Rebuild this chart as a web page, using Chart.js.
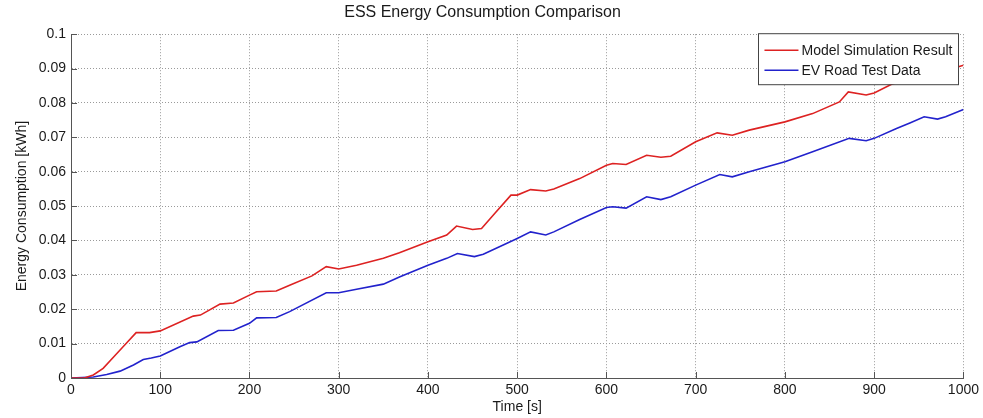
<!doctype html>
<html lang="en">
  <head>
    <meta charset="utf-8">
    <title>ESS Energy Consumption Comparison</title>
    <style>
      * { margin: 0; padding: 0; }
      body { background: #ffffff; }
      .chartBox { width: 983px; height: 418px; }
    </style>
  </head>
  <body>
    <div class="chartBox">
      <canvas id="myChart"></canvas>
    </div>
    <script src="https://cdn.jsdelivr.net/npm/chart.js"></script>
    <script>
    // values
    const simTime = [0, 15, 25, 36, 48, 62, 73, 88, 100, 137, 145, 167, 182, 200, 208, 230, 245, 270, 286, 300,
      320, 350, 368, 400, 421, 432, 450, 460, 475, 493, 500, 515, 532, 541, 570, 600, 607, 622, 645, 661,
      672, 700, 724, 741, 760, 800, 831, 861, 871, 891, 900, 920, 950, 975, 1000];
    const simEnergy = [0, 0, 0.0009, 0.0028, 0.0062, 0.0101, 0.0132, 0.0132, 0.0137, 0.018, 0.0183, 0.0215, 0.0218, 0.0241, 0.0251, 0.0253, 0.027, 0.0297, 0.0324, 0.0317,
      0.0328, 0.0348, 0.0364, 0.0396, 0.0416, 0.0442, 0.0432, 0.0435, 0.0479, 0.0532, 0.0532, 0.0548, 0.0544, 0.055, 0.058, 0.0619, 0.0624, 0.0621, 0.0648, 0.0642,
      0.0645, 0.0687, 0.0713, 0.0706, 0.0721, 0.0745, 0.0769, 0.0803, 0.0832, 0.0823, 0.0829, 0.0855, 0.0875, 0.089, 0.091];

    const roadTime = [0, 25, 40, 55, 70, 81, 90, 100, 122, 133, 141, 165, 182, 200, 208, 230, 245, 286, 300, 320,
      350, 368, 400, 421, 433, 452, 462, 500, 515, 532, 541, 570, 600, 607, 622, 645, 661, 672, 700, 727,
      741, 760, 800, 831, 872, 891, 900, 925, 940, 956, 971, 980, 1000];
    const roadEnergy = [0, 0.0003, 0.001, 0.002, 0.0038, 0.0054, 0.0058, 0.0064, 0.0091, 0.0103, 0.0105, 0.0138, 0.0139, 0.0159, 0.0175, 0.0176, 0.0193, 0.0248, 0.0248, 0.0258,
      0.0273, 0.0294, 0.0328, 0.0348, 0.0362, 0.0353, 0.036, 0.0406, 0.0425, 0.0416, 0.0425, 0.0461, 0.0496, 0.0498, 0.0494, 0.0527, 0.0519, 0.0527, 0.0561, 0.0592,
      0.0585, 0.06, 0.0629, 0.0658, 0.0697, 0.069, 0.0697, 0.0726, 0.0742, 0.076, 0.0753, 0.076, 0.0781];

    const seriesLabels = ['Model Simulation Result', 'EV Road Test Data'];

    const FONT = 'Liberation Sans, Arial, sans-serif';
    const INK = '#1a1a1a';
    const AXIS = '#555555';

    function toPoints(xs, ys) {
      return xs.map((x, i) => ({ x: x, y: ys[i] }));
    }

    // matlab style inward tick marks
    const inwardTicks = {
      id: 'inwardTicks',
      afterDatasetsDraw(chart) {
        const { ctx, chartArea: a, scales } = chart;
        ctx.save();
        ctx.strokeStyle = AXIS;
        ctx.lineWidth = 1;
        ctx.beginPath();
        scales.x.ticks.forEach((t, i) => {
          const px = Math.round(scales.x.getPixelForTick(i)) + 0.5;
          ctx.moveTo(px, a.bottom);
          ctx.lineTo(px, a.bottom - 6);
        });
        scales.y.ticks.forEach((t, i) => {
          const py = Math.round(scales.y.getPixelForTick(i)) + 0.5;
          ctx.moveTo(a.left, py);
          ctx.lineTo(a.left + 6, py);
        });
        ctx.stroke();
        ctx.restore();
      }
    };

    // legend box inside the plot, top right
    const boxLegend = {
      id: 'boxLegend',
      afterDraw(chart) {
        const { ctx, chartArea: a } = chart;
        ctx.save();
        ctx.font = '14px ' + FONT;
        const textW = Math.max(...seriesLabels.map(s => ctx.measureText(s).width));
        const w = 6 + 34 + 3 + textW + 6;
        const h = 51;
        const x0 = a.right - 5 - w;
        const y0 = a.top - 1;
        ctx.fillStyle = '#ffffff';
        ctx.fillRect(x0, y0, w, h);
        ctx.strokeStyle = '#444444';
        ctx.lineWidth = 1;
        ctx.strokeRect(Math.round(x0) + 0.5, y0 + 0.5, Math.round(w), h);
        chart.data.datasets.forEach((ds, i) => {
          const cy = y0 + 17 + i * 20;
          ctx.strokeStyle = ds.borderColor;
          ctx.lineWidth = 1.5;
          ctx.beginPath();
          ctx.moveTo(x0 + 6, cy);
          ctx.lineTo(x0 + 40, cy);
          ctx.stroke();
          ctx.fillStyle = INK;
          ctx.textBaseline = 'middle';
          ctx.fillText(ds.label, x0 + 43, cy + 1);
        });
        ctx.restore();
      }
    };

    const data = {
      datasets: [
        {
          label: seriesLabels[0],
          data: toPoints(simTime, simEnergy),
          borderColor: '#dd2222',
          borderWidth: 1.6,
          pointRadius: 0,
          tension: 0
        },
        {
          label: seriesLabels[1],
          data: toPoints(roadTime, roadEnergy),
          borderColor: '#2222cc',
          borderWidth: 1.6,
          pointRadius: 0,
          tension: 0
        }
      ]
    };

    const scales = {
      x: {
        type: 'linear',
        min: 0,
        max: 1000,
        afterFit(s) { s.height = 40; },
        ticks: {
          stepSize: 100,
          padding: 4,
          color: INK,
          maxRotation: 0,
          font: { family: FONT, size: 14 },
          callback: v => String(v)
        },
        grid: {
          color: '#9a9a9a',
          drawTicks: false
        },
        border: { display: true, color: AXIS, width: 1, dash: [1, 2] },
        title: {
          display: true,
          text: 'Time [s]',
          color: INK,
          padding: { top: 0, bottom: 2 },
          font: { family: FONT, size: 14 }
        }
      },
      y: {
        type: 'linear',
        min: 0,
        max: 0.1,
        afterFit(s) { s.width = 71; },
        ticks: {
          stepSize: 0.01,
          padding: 5,
          color: INK,
          font: { family: FONT, size: 14 },
          callback: v => String(Number(v.toFixed(2)))
        },
        grid: {
          color: '#9a9a9a',
          drawTicks: false
        },
        border: { display: true, color: AXIS, width: 1, dash: [1, 2] },
        title: {
          display: true,
          text: 'Energy Consumption [kWh]',
          color: INK,
          padding: { top: 14, bottom: 0 },
          font: { family: FONT, size: 14 }
        }
      }
    };

    const config = {
      type: 'line',
      data,
      options: {
        responsive: true,
        maintainAspectRatio: false,
        animation: false,
        layout: { padding: { left: 0, right: 18, top: 0, bottom: 0 } },
        scales: scales,
        plugins: {
          legend: { display: false },
          tooltip: { enabled: false },
          title: {
            display: true,
            text: 'ESS Energy Consumption Comparison',
            color: INK,
            padding: { top: 3, bottom: 12 },
            font: { family: FONT, size: 16, weight: 'normal' }
          }
        }
      },
      plugins: [inwardTicks, boxLegend]
    };

    const myChart = new Chart(document.getElementById('myChart'), config);
    </script>
  </body>
</html>
